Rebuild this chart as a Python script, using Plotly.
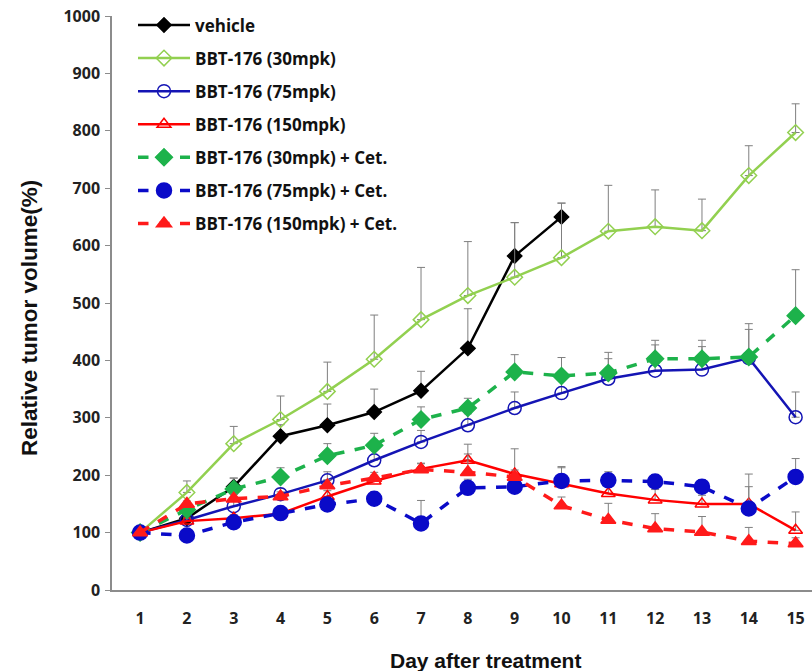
import plotly.graph_objects as go

days = list(range(1, 16))
y_ticks = [0, 100, 200, 300, 400, 500, 600, 700, 800, 900, 1000]

names = ["vehicle", "BBT-176 (30mpk)", "BBT-176 (75mpk)", "BBT-176 (150mpk)",
         "BBT-176 (30mpk) + Cet.", "BBT-176 (75mpk) + Cet.", "BBT-176 (150mpk) + Cet."]

vehicle = [100, 125, 180, 268, 287, 310, 347, 421, 582, 650]
vehicle_err = [0, 8, 15, 20, 37, 40, 34, 69, 58, 24]

bbt30 = [100, 170, 255, 297, 346, 402, 471, 513, 545, 579, 625, 633, 626, 722, 797]
bbt30_err = [0, 20, 30, 41, 51, 77, 91, 94, 95, 95, 80, 64, 55, 52, 50]

bbt75 = [100, 122, 146, 167, 191, 226, 258, 287, 317, 343, 368, 382, 384, 404, 301]
bbt75_err = [0, 5, 10, 10, 15, 18, 20, 20, 28, 25, 35, 45, 40, 50, 44]

bbt150 = [100, 120, 125, 133, 163, 190, 211, 226, 202, 185, 168, 157, 150, 150, 104]
bbt150_err = [0, 5, 6, 8, 10, 10, 10, 28, 44, 28, 20, 18, 15, 30, 32]

bbt30c = [100, 140, 176, 197, 234, 252, 297, 317, 380, 373, 378, 403, 403, 406, 478]
bbt30c_err = [0, 10, 19, 16, 21, 21, 22, 17, 30, 32, 36, 32, 32, 58, 80]

bbt75c = [100, 95, 118, 134, 149, 159, 116, 178, 180, 190, 191, 189, 180, 142, 197]
bbt75c_err = [0, 5, 8, 8, 10, 12, 40, 15, 15, 25, 15, 12, 12, 60, 32]

bbt150c = [100, 150, 159, 163, 182, 195, 210, 205, 197, 147, 122, 107, 101, 85, 81]
bbt150c_err = [0, 5, 8, 8, 10, 10, 10, 32, 12, 15, 29, 26, 27, 24, 10]

x_title = "Day after treatment"
y_title = "Relative tumor volume(%)"

series = [
    (vehicle, vehicle_err, "#000000", "solid", "diamond", 11, 2.5),
    (bbt30, bbt30_err, "#92D050", "solid", "diamond-open", 12, 2.5),
    (bbt75, bbt75_err, "#1414B4", "solid", "circle-open", 13, 2.5),
    (bbt150, bbt150_err, "#FF0000", "solid", "triangle-up-open", 12, 2.5),
    (bbt30c, bbt30c_err, "#1DB24B", "dash", "diamond", 13, 3.5),
    (bbt75c, bbt75c_err, "#0A0AC8", "dash", "circle", 15, 3.5),
    (bbt150c, bbt150c_err, "#FF1A1A", "dash", "triangle-up", 13, 3.5),
]

fig = go.Figure()
for i, (vals, err, color, dash, sym, ms, lw) in enumerate(series):
    fig.add_trace(go.Scatter(
        x=days[:len(vals)], y=vals, name=names[i], mode="lines+markers",
        legendgroup=str(i),
        line=dict(color=color, width=lw, dash=dash),
        marker=dict(symbol=sym, size=ms, color=color,
                    line=dict(color=color, width=1.5)),
        error_y=dict(type="data", symmetric=False, array=err,
                     arrayminus=[0] * len(err), color="#7F7F7F",
                     thickness=1, width=4),
    ))

font_title = "Liberation Sans, Arial, sans-serif"
font_tick = "Open Sans, sans-serif"
fig.update_layout(
    width=812, height=671,
    margin=dict(l=112, r=0, t=16, b=81),
    paper_bgcolor="white", plot_bgcolor="white",
    showlegend=True,
    legend=dict(x=0.03, y=1.015, xanchor="left", yanchor="top",
                bgcolor="rgba(0,0,0,0)", tracegroupgap=8, itemwidth=52,
                font=dict(family=font_tick, size=17, color="#111", weight="bold")),
    xaxis=dict(range=[0.4, 15.35], tickmode="array", tickvals=days,
               ticktext=[str(d) for d in days], showgrid=False, zeroline=False,
               showline=True, linecolor="#8C8C8C", linewidth=1.5, ticks="",
               ticklabelstandoff=13, automargin=False,
               tickfont=dict(family=font_tick, size=16, color="#222", weight="bold")),
    yaxis=dict(range=[0, 1000], tickmode="array", tickvals=y_ticks,
               showgrid=False, zeroline=False, showline=True, automargin=False,
               linecolor="#8C8C8C", linewidth=1.5, ticks="outside", ticklen=5,
               tickcolor="#8C8C8C", ticklabelstandoff=2, ticklabeloverflow="allow",
               tickfont=dict(family=font_tick, size=16, color="#222", weight="bold")),
    annotations=[
        dict(text=x_title, xref="paper", yref="paper", x=0.533, y=-0.122,
             xanchor="center", yanchor="middle", showarrow=False,
             font=dict(family=font_title, size=21, color="#111", weight="bold")),
        dict(text=y_title, xref="paper", yref="paper", x=-0.117, y=0.474,
             xanchor="center", yanchor="middle", showarrow=False, textangle=-90,
             font=dict(family=font_title, size=22.5, color="#111", weight="bold")),
    ],
)

fig.write_html("out.html", config={"displayModeBar": False},
               post_script="document.body.style.margin='0';")
